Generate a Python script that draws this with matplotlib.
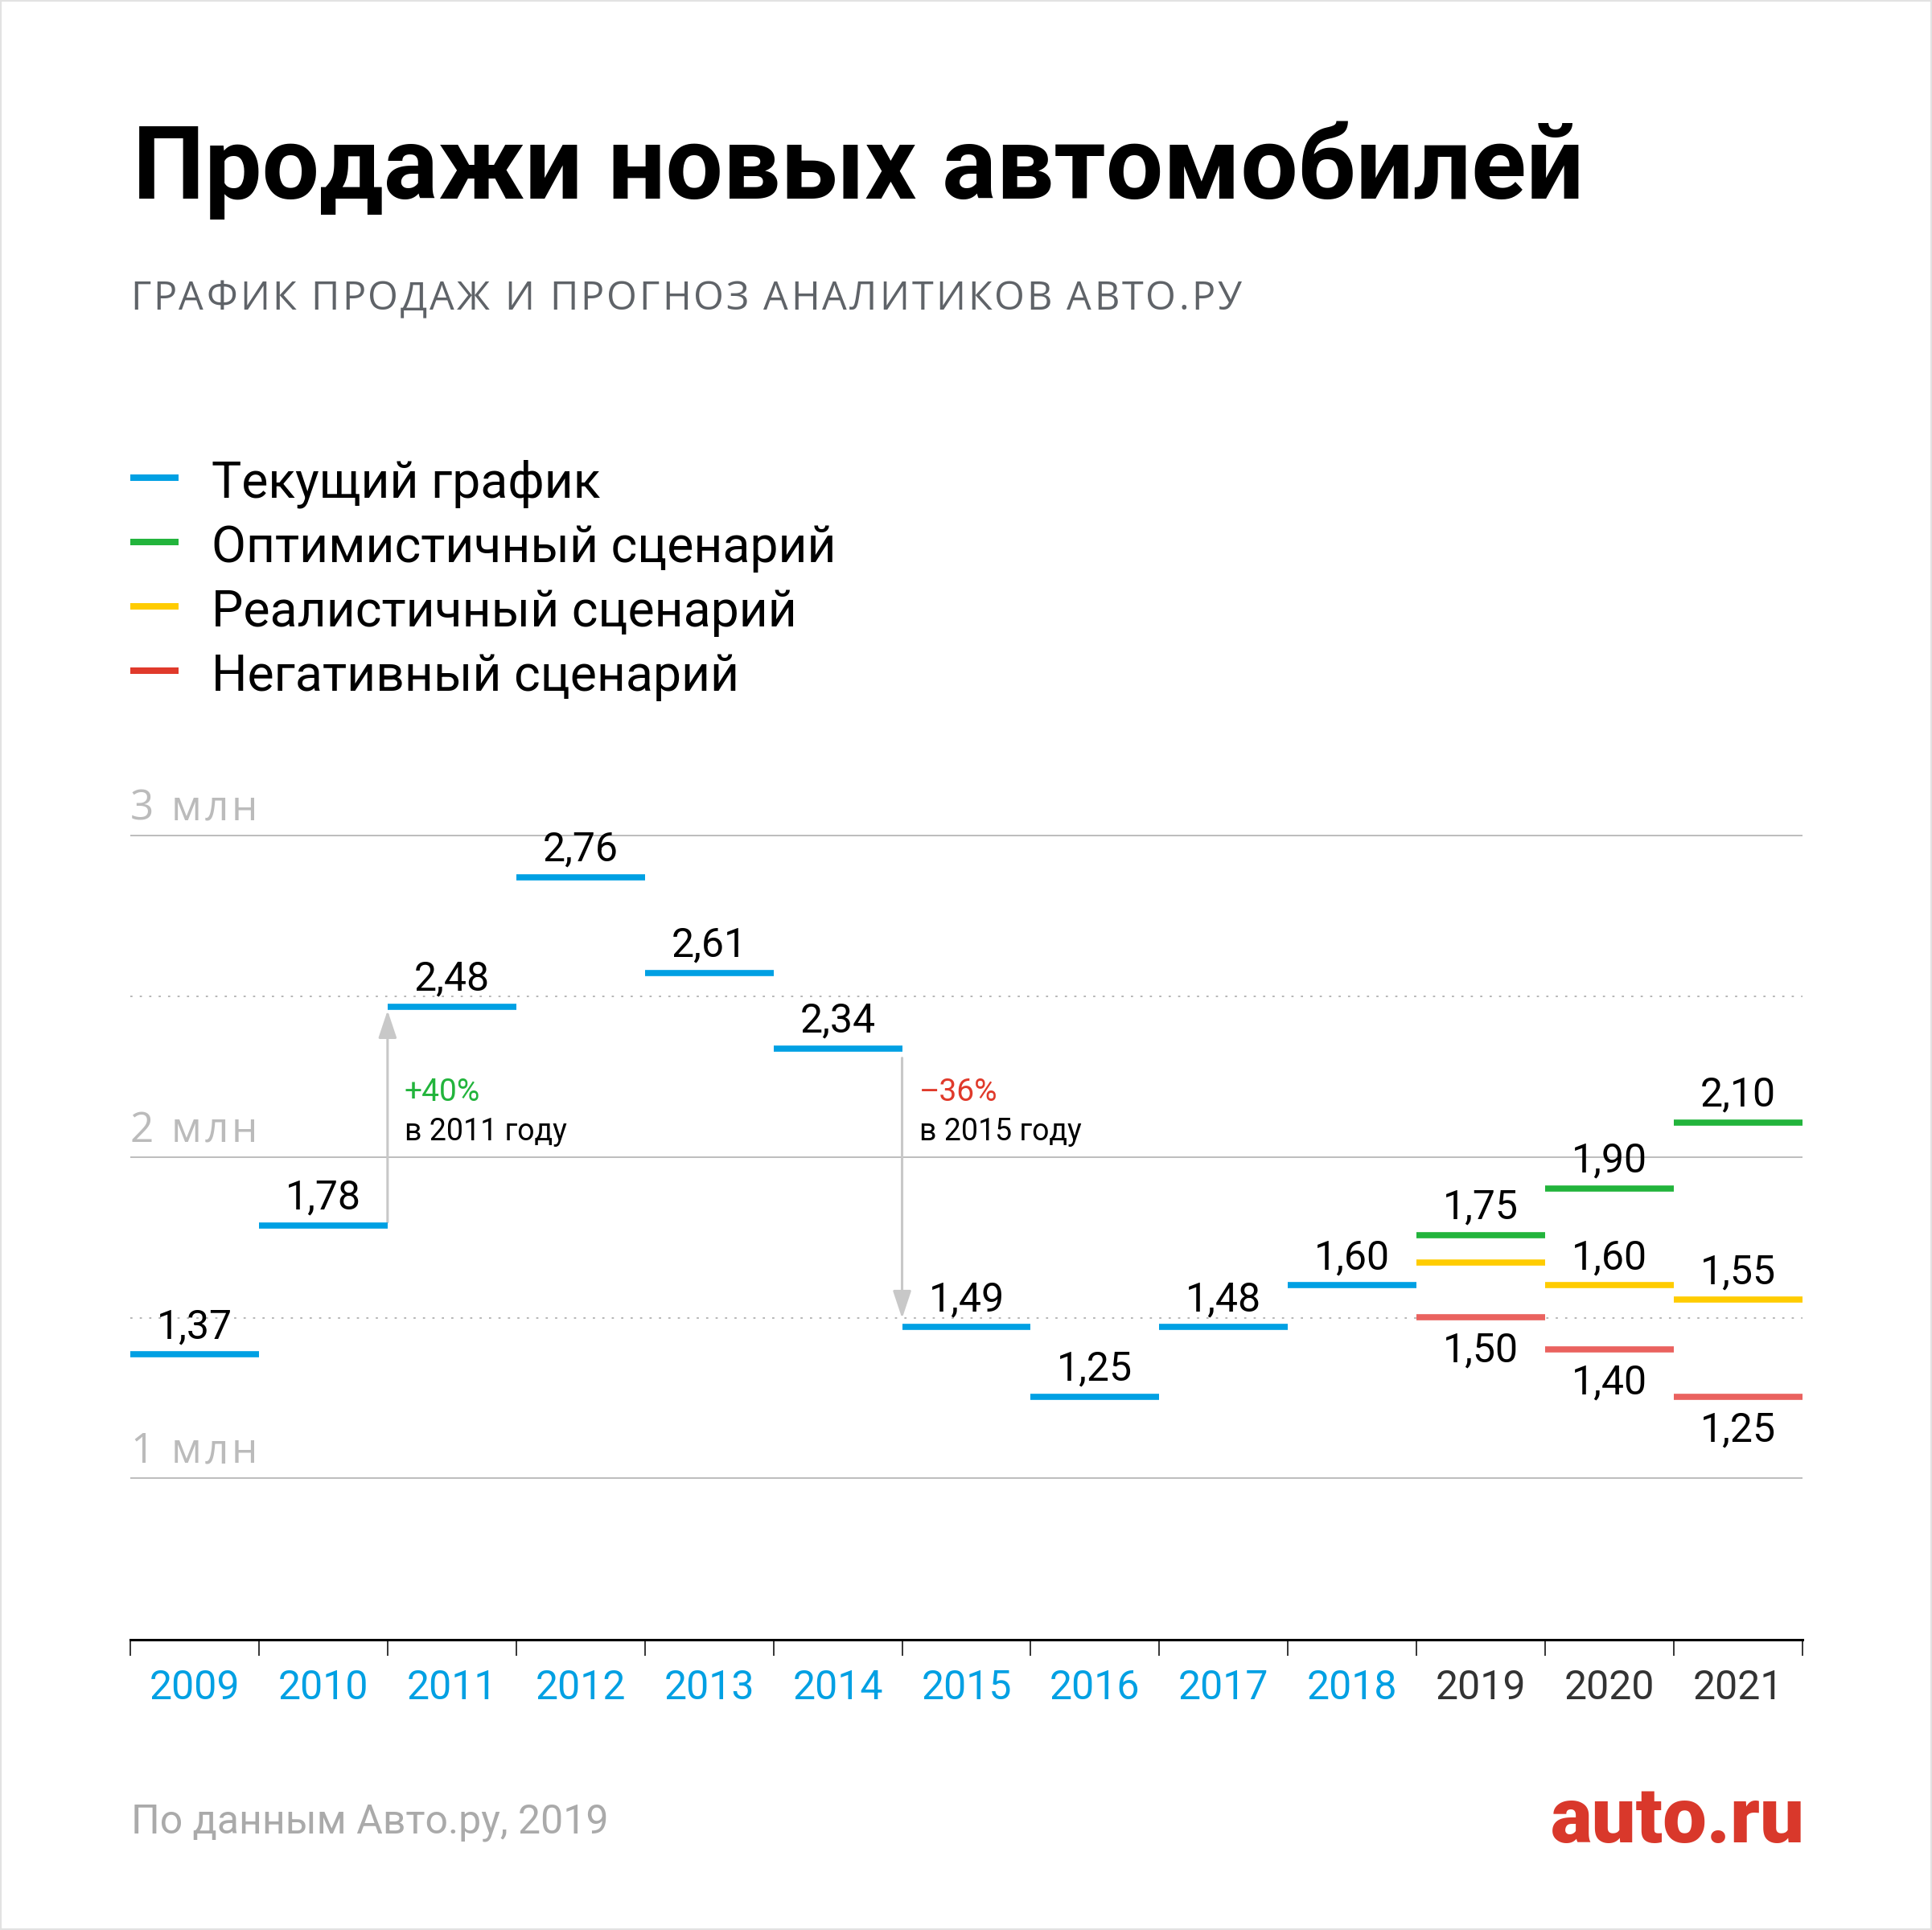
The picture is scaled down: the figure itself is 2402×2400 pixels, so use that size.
import matplotlib
matplotlib.use("Agg")
import matplotlib.pyplot as plt
from matplotlib.patches import Rectangle

plt.rcParams['font.family'] = ['Roboto', 'DejaVu Sans']

W, H = 2402, 2400

# data
years = ["2009", "2010", "2011", "2012", "2013", "2014", "2015",
         "2016", "2017", "2018", "2019", "2020", "2021"]
current = [1.386, 1.787, 2.468, 2.870, 2.573, 2.338, 1.471, 1.255, 1.471, 1.601]
current_lbl = ["1,37", "1,78", "2,48", "2,76", "2,61", "2,34", "1,49", "1,25", "1,48", "1,60"]
optimistic = [1.757, 1.902, 2.107]
optimistic_lbl = ["1,75", "1,90", "2,10"]
realistic = [1.672, 1.601, 1.556]
realistic_lbl = [None, "1,60", "1,55"]
negative = [1.502, 1.401, 1.255]
negative_lbl = ["1,50", "1,40", "1,25"]
y_ticks = [1, 2, 3]
y_tick_lbl = ["1 млн", "2 млн", "3 млн"]
half_lines = [1.5, 2.5]
legend_names = ["Текущий график", "Оптимистичный сценарий",
                "Реалистичный сценарий", "Негативный сценарий"]

BLUE = "#00a0e3"
GREEN = "#22b43c"
YELLOW = "#ffcc00"
RED_BAR = "#ea625f"
RED = "#e03a2b"
GRID = "#bdbdbd"
ARROW = "#c8c8c8"
WIDE = ['Open Sans', 'DejaVu Sans']


def fx(px):
    return px / W


def fy(py):
    return 1 - py / H


fig = plt.figure(figsize=(W / 100, H / 100), dpi=100)
renderer = fig.canvas.get_renderer()
fig.patches.append(Rectangle((0, 0), 1, 1, transform=fig.transFigure,
                             fill=False, edgecolor="#e2e2e2", lw=3))


def spaced_text(x_px, y_px, s, track_px, **kw):
    # letter-spaced text, one glyph at a time (pixel coords)
    x = x_px
    for ch in s:
        t = fig.text(fx(x), fy(y_px), ch, va="baseline", ha="left", **kw)
        if ch == " ":
            probe = fig.text(0, 0, "a a", **kw)
            probe2 = fig.text(0, 0, "aa", **kw)
            w = (probe.get_window_extent(renderer).width -
                 probe2.get_window_extent(renderer).width)
            probe.remove()
            probe2.remove()
        else:
            w = t.get_window_extent(renderer).width
        x += w + track_px


# header
fig.text(fx(165), fy(247), "Продажи новых автомобилей", fontsize=91,
         fontweight="bold", color="black", va="baseline", ha="left")
spaced_text(162, 385, "ГРАФИК ПРОДАЖ И ПРОГНОЗ АНАЛИТИКОВ АВТО.РУ", 3.0,
            fontsize=35, color="#5f6368", family=WIDE)

# legend
leg_colors = [BLUE, GREEN, YELLOW, RED]
leg_y = [594, 674, 754, 834]
for name, c, ly in zip(legend_names, leg_colors, leg_y):
    fig.add_artist(plt.Line2D([fx(162), fx(222)], [fy(ly), fy(ly)], color=c,
                              lw=5.8, solid_capstyle="butt"))
    fig.text(fx(263), fy(ly + 25), name, fontsize=45, color="black",
             va="baseline", ha="left")

# footer
fig.text(fx(163), fy(2280), "По данным Авто.ру, 2019", fontsize=36,
         color="#aaaaaa", va="baseline", ha="left")
fig.text(fx(2244), fy(2291), "auto.ru", fontsize=70, fontweight="heavy",
         color="#d9382b", va="baseline", ha="right")

# chart
ax = fig.add_axes([fx(162), fy(2039), fx(2241) - fx(162), 0.46662])
ax.set_xlim(0, 13)
ax.set_ylim(0.4984, 3.3)
for s in ["top", "left", "right"]:
    ax.spines[s].set_visible(False)
ax.spines["bottom"].set_linewidth(2.2)
ax.set_yticks([])
ax.set_xticks([i + 0.5 for i in range(13)])
ax.set_xticklabels(years)
ax.set_xticks(range(14), minor=True)
ax.tick_params(axis="x", which="major", length=0, pad=26, labelsize=36)
ax.tick_params(axis="x", which="minor", length=14.5, width=1.1, direction="out")
for i, t in enumerate(ax.get_xticklabels()):
    t.set_color(BLUE if i < len(current) else "#333333")

ax.hlines(y_ticks, 0, 13, color=GRID, lw=1.4, zorder=1)
ax.hlines(half_lines, 0, 13, color="#b0b0b0", lw=1.3,
          linestyles=[(0, (1.5, 5))], zorder=1)

# y labels sit just above their gridlines
ax_bottom_px, px_per_unit, y_min = 2039, 399.75, 0.4984
for v, t in zip(y_ticks, y_tick_lbl):
    base = ax_bottom_px - (v - y_min) * px_per_unit - 19
    spaced_text(162, base, t, 4.0, fontsize=37, color="#bbbbbb", family=WIDE)


def bars(start, vals, labels, color, above=True):
    xs = range(start, start + len(vals))
    ax.hlines(vals, [x for x in xs], [x + 1 for x in xs], color=color,
              lw=5.5, capstyle="butt", zorder=3)
    for x, v, lbl in zip(xs, vals, labels):
        if lbl is None:
            continue
        off = 14.5 if above else -40
        ax.annotate(lbl, (x + 0.5, v), xytext=(0, off), textcoords="offset points",
                    fontsize=36, color="black", ha="center", va="baseline")


bars(0, current, current_lbl, BLUE)
n = len(current)
bars(n, optimistic, optimistic_lbl, GREEN)
bars(n, realistic, realistic_lbl, YELLOW)
bars(n, negative, negative_lbl, RED_BAR, above=False)

# change arrows
arrow = dict(arrowstyle="-|>,head_length=1.05,head_width=0.35", color=ARROW,
             lw=2.2, shrinkA=0, shrinkB=0, mutation_scale=20)
ax.annotate("", xy=(2, current[2] - 0.012), xytext=(2, current[1] + 0.01),
            arrowprops=arrow, zorder=2)
ax.annotate("", xy=(6, current[6] + 0.027), xytext=(6, current[5] - 0.03),
            arrowprops=arrow, zorder=2)

ax.text(2.132, 2.1745, "+40%", fontsize=28, color=GREEN, ha="left", va="baseline")
ax.text(2.132, 2.052, "в 2011 году", fontsize=27, color="black", ha="left", va="baseline")
ax.text(6.135, 2.1745, "–36%", fontsize=28, color=RED, ha="left", va="baseline")
ax.text(6.135, 2.052, "в 2015 году", fontsize=27, color="black", ha="left", va="baseline")

fig.savefig("out.png", dpi=100)
